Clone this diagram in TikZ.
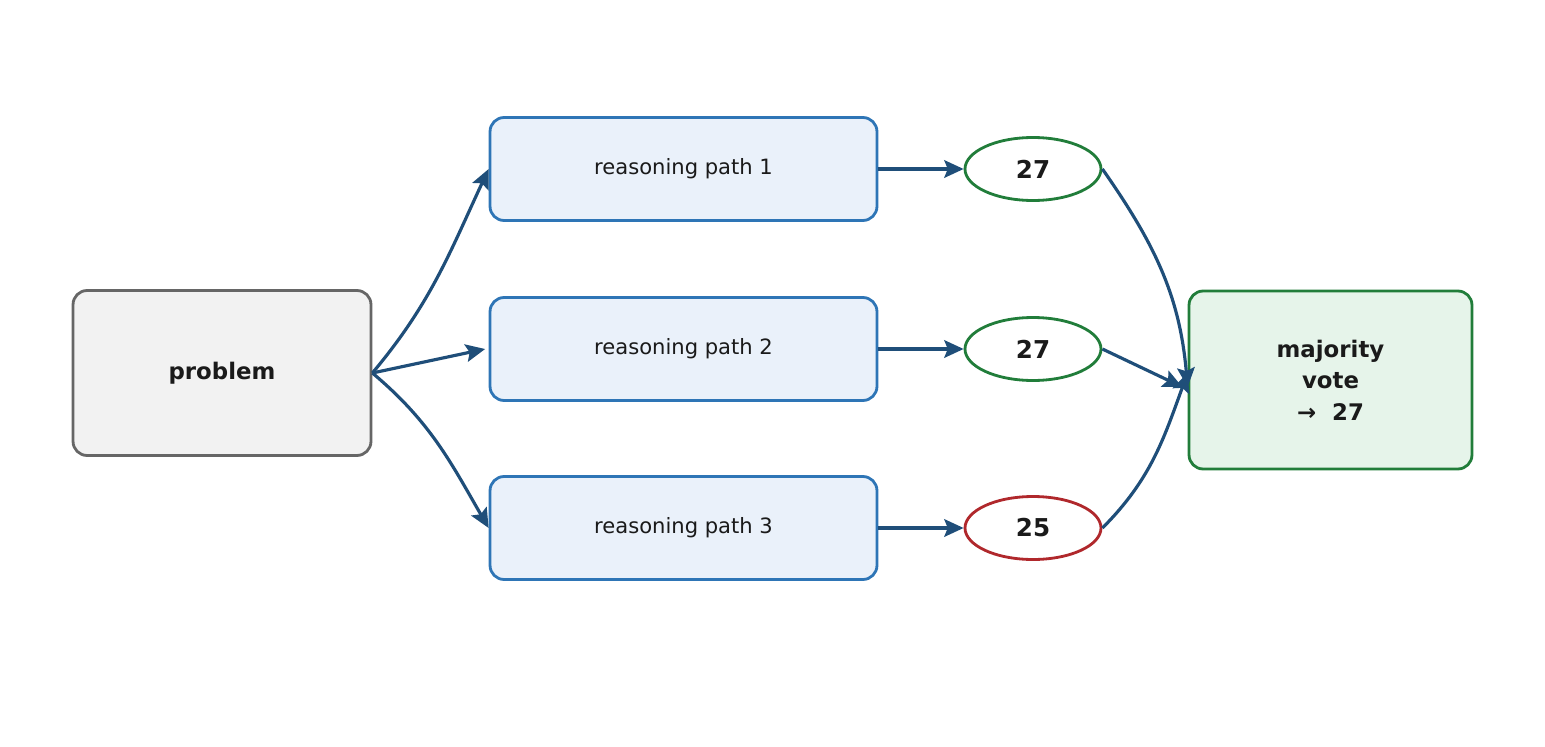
\documentclass[tikz,border=0pt]{standalone}
\usepackage{fontspec}
\setmainfont{DejaVu Sans}
\usetikzlibrary{arrows.meta,shapes.geometric}
\definecolor{arr}{HTML}{1F4E79}
\definecolor{pb}{HTML}{2E75B6}
\definecolor{pf}{HTML}{EAF1FA}
\definecolor{gr}{HTML}{217D3A}
\definecolor{gf}{HTML}{E6F4EA}
\definecolor{rd}{HTML}{B0282C}
\definecolor{tx}{HTML}{1A1A1A}
\begin{document}
\begin{tikzpicture}[x=0.02cm,y=-0.02cm,
 box/.style={rounded corners=8pt,line width=1.6pt,inner sep=0,text=tx},
 pathbox/.style={box,draw=pb,fill=pf,minimum width=7.74cm,minimum height=2.06cm,font=\fontsize{12}{14}\selectfont},
 ans/.style={ellipse,draw=gr,fill=white,line width=1.6pt,minimum width=2.72cm,minimum height=1.26cm,inner sep=0,font=\bfseries\fontsize{14}{16}\selectfont,text=tx},
 con/.style={draw=arr,line width=1.8pt,-{Stealth[length=11pt,width=10pt,inset=2pt]}}]
\useasboundingbox (0,0) rectangle (1545,747);
\node[box,draw=black!60,fill=black!5,minimum width=5.96cm,minimum height=3.3cm,font=\bfseries\fontsize{13}{15}\selectfont] (p) at (222,373) {problem};
\node[pathbox] (r1) at (683.5,169) {reasoning path 1};
\node[pathbox] (r2) at (683.5,349) {reasoning path 2};
\node[pathbox] (r3) at (683.5,528) {reasoning path 3};
\node[ans] (a1) at (1033,169) {27};
\node[ans] (a2) at (1033,349) {27};
\node[ans,draw=rd] (a3) at (1033,528) {25};
\node[box,draw=gr,fill=gf,minimum width=5.66cm,minimum height=3.56cm,align=center,font=\bfseries\fontsize{13}{18}\selectfont] (m) at (1330.5,380) {majority\\vote\\→\ \ 27};
\draw[con] (p.east) to[out=50,in=245] (r1.west);
\draw[con] (p.east) -- ([xshift=-2pt]r2.west);
\draw[con] (p.east) to[out=-40,in=120] (r3.west);
\draw[con] (r1.east) -- (a1.west);
\draw[con] (r2.east) -- (a2.west);
\draw[con] (r3.east) -- (a3.west);
\draw[con] (a1.east) to[out=-55,in=95] ([yshift=-4pt]m.west);
\draw[con] (a2.east) -- ([xshift=-3pt,yshift=-4pt]m.west);
\draw[con] (a3.east) to[out=45,in=-110] ([yshift=4pt]m.west);
\end{tikzpicture}
\end{document}
